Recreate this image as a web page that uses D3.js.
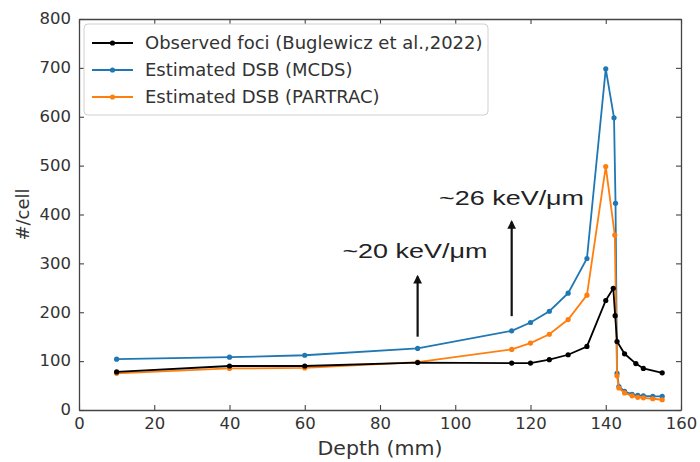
<!DOCTYPE html>
<html>
<head>
<meta charset="utf-8">
<script src="https://cdn.jsdelivr.net/npm/d3@7"></script>
<style>
  body { margin: 0; background: #fff; }
</style>
</head>
<body>
<div id="chart"></div>
<script>
// observed foci (Buglewicz et al., 2022)
const obsDepth = [10, 40, 60, 90, 115, 120, 125, 130, 135, 140, 142, 142.5, 143, 145, 148, 150, 155]
const obsValue = [78, 90, 90, 97, 96, 96, 103, 113, 130, 224, 249, 193, 140, 115, 95, 85, 76]

// estimated DSB, MCDS
const mcdsDepth = [10, 40, 60, 90, 115, 120, 125, 130, 135, 140, 142.2, 142.6, 143, 143.5, 145, 147, 148.5, 150, 152.5, 155]
const mcdsValue = [104, 108, 112, 126, 162, 179, 202, 239, 310, 698, 598, 423, 75, 48, 38, 32, 30, 29, 28, 28]

// estimated DSB, PARTRAC
const partDepth = [10, 40, 60, 90, 115, 120, 125, 130, 135, 140, 142.4, 143, 143.5, 145, 147, 148.5, 150, 152.5, 155]
const partValue = [75, 85, 86, 98, 124, 137, 155, 185, 235, 498, 358, 70, 45, 35, 29, 26, 25, 23, 21]

const seriesNames = ["Observed foci (Buglewicz et al.,2022)", "Estimated DSB (MCDS)", "Estimated DSB (PARTRAC)"]
const seriesColors = ["#000000", "#1f77b4", "#ff7f0e"]

const xTicks = [0, 20, 40, 60, 80, 100, 120, 140, 160]
const yTicks = [0, 100, 200, 300, 400, 500, 600, 700, 800]

// LET arrows and labels
const arrowDepth = [90, 115]
const arrowFrom = [150, 192]
const arrowTo = [273, 385]
const letLabels = ["~20 keV/\u03bcm", "~26 keV/\u03bcm"]
const letLabelX = [70, 95.7]
const letLabelY = [310, 419]

function drawChart() {
    const width = 700
    const height = 462
    const margin = {left: 79, right: 19, top: 19, bottom: 52}

    const x = d3.scaleLinear().domain([0, 160]).range([margin.left, width - margin.right])
    const y = d3.scaleLinear().domain([0, 800]).range([height - margin.bottom, margin.top])

    const svg = d3.select("#chart")
        .append("svg")
        .attr("width", width)
        .attr("height", height)
        .style("font-family", "'DejaVu Sans', sans-serif")

    // widen text a bit like the (stretched) original
    function stretch(sel, k) {
        sel.each(function() {
            const w = this.getComputedTextLength()
            d3.select(this).attr("textLength", w * k).attr("lengthAdjust", "spacingAndGlyphs")
        })
    }

    // axes, ticks pointing in, on all four sides
    const bottom = svg.append("g")
        .attr("transform", `translate(0,${y(0)})`)
        .call(d3.axisBottom(x).tickValues(xTicks).tickSizeInner(-5).tickSizeOuter(0).tickPadding(8))
    const top = svg.append("g")
        .attr("transform", `translate(0,${y(800)})`)
        .call(d3.axisTop(x).tickValues(xTicks).tickSizeInner(-5).tickSizeOuter(0).tickFormat(""))
    const left = svg.append("g")
        .attr("transform", `translate(${x(0)},0)`)
        .call(d3.axisLeft(y).tickValues(yTicks).tickSizeInner(-5).tickSizeOuter(0).tickPadding(8))
    const right = svg.append("g")
        .attr("transform", `translate(${x(160)},0)`)
        .call(d3.axisRight(y).tickValues(yTicks).tickSizeInner(-5).tickSizeOuter(0).tickFormat(""))

    for (const g of [bottom, top, left, right]) {
        g.attr("font-family", null)
        g.select(".domain").attr("stroke", "#444").attr("stroke-width", 1.3)
        g.selectAll(".tick line").attr("stroke", "#444").attr("stroke-width", 1.1)
    }
    bottom.selectAll(".tick text").attr("font-size", 15).attr("fill", "#333").call(stretch, 1.1)
    left.selectAll(".tick text").attr("font-size", 15).attr("fill", "#333").call(stretch, 1.1)

    // axis titles
    svg.append("text")
        .attr("x", (x(0) + x(160)) / 2)
        .attr("y", 455)
        .attr("text-anchor", "middle")
        .attr("font-size", 19)
        .attr("fill", "#333")
        .text("Depth (mm)")
        .call(stretch, 1.08)

    svg.append("text")
        .attr("transform", `translate(29,${(y(0) + y(800)) / 2}) rotate(-90)`)
        .attr("text-anchor", "middle")
        .attr("font-size", 18)
        .attr("fill", "#333")
        .text("#/cell")

    // series
    const series = [
        {name: seriesNames[0], color: seriesColors[0], pts: obsDepth.map((d, i) => [d, obsValue[i]])},
        {name: seriesNames[1], color: seriesColors[1], pts: mcdsDepth.map((d, i) => [d, mcdsValue[i]])},
        {name: seriesNames[2], color: seriesColors[2], pts: partDepth.map((d, i) => [d, partValue[i]])}
    ]

    const line = d3.line().x(d => x(d[0])).y(d => y(d[1]))

    // observed foci drawn last so it sits on top of the orange in the plateau
    const sg = svg.append("g")
        .selectAll("g")
        .data([series[1], series[2], series[0]])
        .join("g")

    sg.append("path")
        .attr("d", d => line(d.pts))
        .attr("fill", "none")
        .attr("stroke", d => d.color)
        .attr("stroke-width", 1.8)

    sg.selectAll("circle")
        .data(d => d.pts.map(p => ({p: p, color: d.color})))
        .join("circle")
        .attr("cx", d => x(d.p[0]))
        .attr("cy", d => y(d.p[1]))
        .attr("r", 2.6)
        .attr("fill", d => d.color)

    // arrows
    const defs = svg.append("defs")
    defs.append("marker")
        .attr("id", "head")
        .attr("viewBox", "0 0 10 10")
        .attr("refX", 8)
        .attr("refY", 5)
        .attr("markerWidth", 4)
        .attr("markerHeight", 4)
        .attr("orient", "auto")
        .append("path")
        .attr("d", "M0,0L10,5L0,10Z")
        .attr("fill", "#111")

    svg.append("g")
        .selectAll("line")
        .data(arrowDepth)
        .join("line")
        .attr("x1", d => x(d))
        .attr("x2", d => x(d))
        .attr("y1", (d, i) => y(arrowFrom[i]))
        .attr("y2", (d, i) => y(arrowTo[i]))
        .attr("stroke", "#111")
        .attr("stroke-width", 2.2)
        .attr("marker-end", "url(#head)")

    svg.append("g")
        .selectAll("text")
        .data(letLabels)
        .join("text")
        .attr("x", (d, i) => x(letLabelX[i]))
        .attr("y", (d, i) => y(letLabelY[i]))
        .style("font-family", "'Liberation Sans', Arial, sans-serif")
        .attr("font-size", 20)
        .attr("fill", "#222")
        .attr("textLength", 145)
        .attr("lengthAdjust", "spacingAndGlyphs")
        .text(d => d)

    // legend
    const legend = svg.append("g")
    legend.append("rect")
        .attr("x", 84)
        .attr("y", 24)
        .attr("width", 404)
        .attr("height", 91)
        .attr("rx", 4)
        .attr("fill", "#fff")
        .attr("fill-opacity", 0.8)
        .attr("stroke", "#d0d0d0")

    const items = legend.selectAll("g.item")
        .data(series)
        .join("g")
        .attr("class", "item")
        .attr("transform", (d, i) => `translate(0,${43 + i * 27})`)

    items.append("line")
        .attr("x1", 92)
        .attr("x2", 133)
        .attr("stroke", d => d.color)
        .attr("stroke-width", 1.8)
    items.append("circle")
        .attr("cx", 112.5)
        .attr("r", 2.6)
        .attr("fill", d => d.color)
    items.append("text")
        .attr("x", 145)
        .attr("y", 6)
        .attr("font-size", 18)
        .attr("fill", "#333")
        .text(d => d.name)
}

drawChart()
</script>
</body>
</html>
